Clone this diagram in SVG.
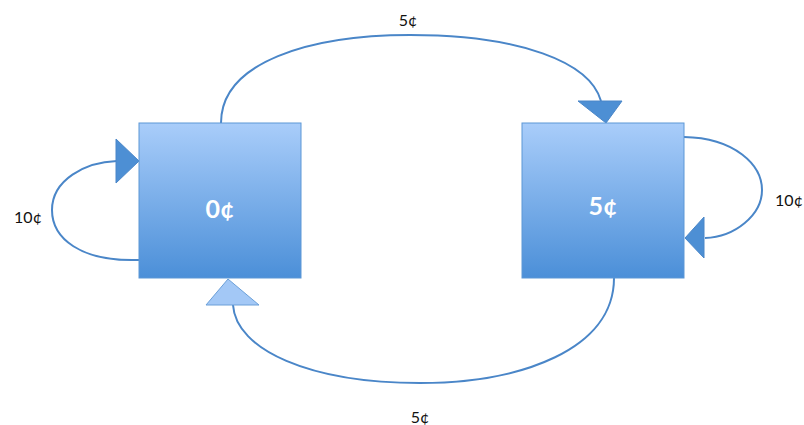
<svg xmlns="http://www.w3.org/2000/svg" width="804" height="425" viewBox="0 0 804 425">
  <defs>
    <linearGradient id="boxFill" x1="0" y1="0" x2="0" y2="1">
      <stop offset="0" stop-color="#a9cdfa"/>
      <stop offset="1" stop-color="#4b8fd8"/>
    </linearGradient>
  </defs>
  <style>
    .state { fill: url(#boxFill); stroke: #5d97d6; stroke-width: 1; }
    .state-label { font-family: Lato, "Open Sans", "Liberation Sans", sans-serif; font-size: 25px; font-weight: bold; fill: #ffffff; text-anchor: middle; }
    .edge { fill: none; stroke: #4a86c8; stroke-width: 2; }
    .head { fill: #4d8fd4; stroke: #4a86c8; stroke-width: 1; }
    .head-light { fill: #a3c8f6; stroke: #6a9fd8; stroke-width: 1; }
    .edge-label { font-family: Lato, "Open Sans", "Liberation Sans", sans-serif; font-size: 16px; fill: #111111; text-anchor: middle; }
  </style>

  <g id="connectors">
    <!-- 0¢ -> 5¢ (top arc) -->
    <path class="edge" d="M221,123 C221,62 310,35 410,35 C520,35 590,62 601,101"/>
    <polygon class="head" points="578,101 622,101 606,123"/>
    <text class="edge-label" x="408" y="26">5¢</text>

    <!-- 5¢ -> 0¢ (bottom arc) -->
    <path class="edge" d="M614,278 C614,350 520,383 420,383 C310,383 236,350 233,305"/>
    <polygon class="head-light" points="206,305 259,305 228,279"/>
    <text class="edge-label" x="420" y="423">5¢</text>

    <!-- 0¢ self-loop -->
    <path class="edge" d="M139,260 C80,262 52,238 52,210 C52,180 85,162 117,161"/>
    <polygon class="head" points="116,139 116,183 139,161"/>
    <text class="edge-label" x="28" y="223">10¢</text>

    <!-- 5¢ self-loop -->
    <path class="edge" d="M684,137 C735,138 762,165 762,190 C762,215 735,237 705,238"/>
    <polygon class="head" points="704,217 704,258 685,238"/>
    <text class="edge-label" x="789" y="206">10¢</text>
  </g>

  <g id="state-0">
    <rect class="state" x="139" y="123" width="162" height="155"/>
    <text class="state-label" x="220" y="218">0¢</text>
  </g>

  <g id="state-5">
    <rect class="state" x="522" y="123" width="162" height="155"/>
    <text class="state-label" x="603" y="215">5¢</text>
  </g>
</svg>
